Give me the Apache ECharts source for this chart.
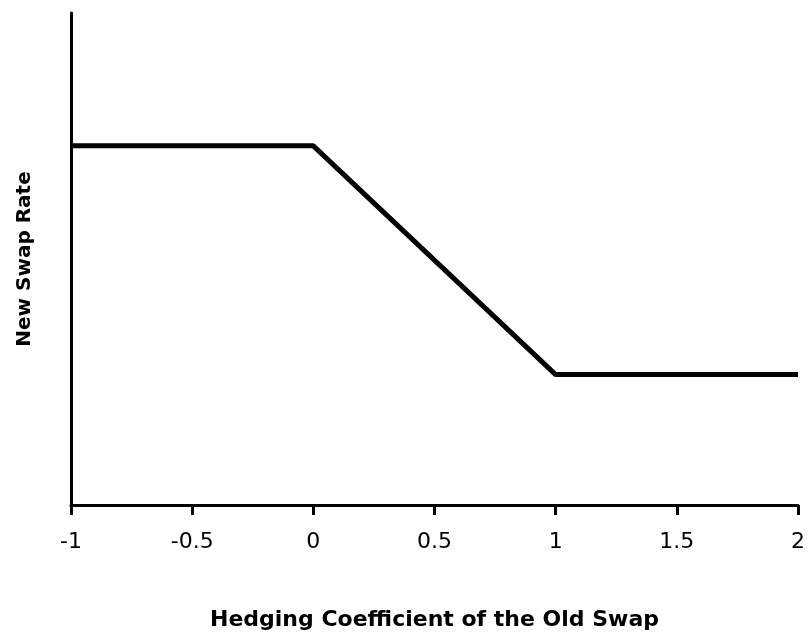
<!DOCTYPE html>
<html>
<head>
<meta charset="utf-8">
<script src="https://cdn.jsdelivr.net/npm/echarts@6/dist/echarts.min.js"></script>
<style>html,body{margin:0;padding:0;background:#fff}#c{width:808px;height:636px}</style>
</head>
<body>
<div id="c"></div>
<script>
const xTicks = [-1, -0.5, 0, 0.5, 1, 1.5, 2];
const xValues = [-1, 0, 1, 2];
const rateValues = [73, 73, 26.5, 26.5];
const xTitle = 'Hedging Coefficient of the Old Swap';
const yTitle = 'New Swap Rate';

const chart = echarts.init(document.getElementById('c'));
chart.setOption({
  animation: false,
  grid: { left: 71, right: 8, top: 13, bottom: 130 },
  xAxis: {
    type: 'value', min: -1, max: 2, interval: 0.5,
    name: xTitle, nameLocation: 'middle', nameGap: 104,
    nameTextStyle: { fontFamily: 'DejaVu Sans', fontWeight: 'bold', fontSize: 22, color: '#000' },
    axisLine: { show: true, onZero: false, lineStyle: { color: '#000', width: 3 } },
    axisTick: { show: true, length: 10, lineStyle: { color: '#000', width: 3 } },
    axisLabel: { margin: 26, fontFamily: 'DejaVu Sans', fontSize: 22, color: '#000',
      formatter: v => String(v) },
    splitLine: { show: false }
  },
  yAxis: {
    type: 'value', min: 0, max: 100,
    name: yTitle, nameLocation: 'middle', nameGap: 36, nameRotate: 90,
    nameTextStyle: { fontFamily: 'DejaVu Sans', fontWeight: 'bold', fontSize: 20, color: '#000' },
    axisLine: { show: true, onZero: false, lineStyle: { color: '#000', width: 3 } },
    axisTick: { show: false },
    axisLabel: { show: false },
    splitLine: { show: false }
  },
  series: [{
    type: 'line',
    data: xValues.map((x, i) => [x, rateValues[i]]),
    symbol: 'none',
    lineStyle: { color: '#000', width: 5 }
  }]
});
</script>
</body>
</html>
